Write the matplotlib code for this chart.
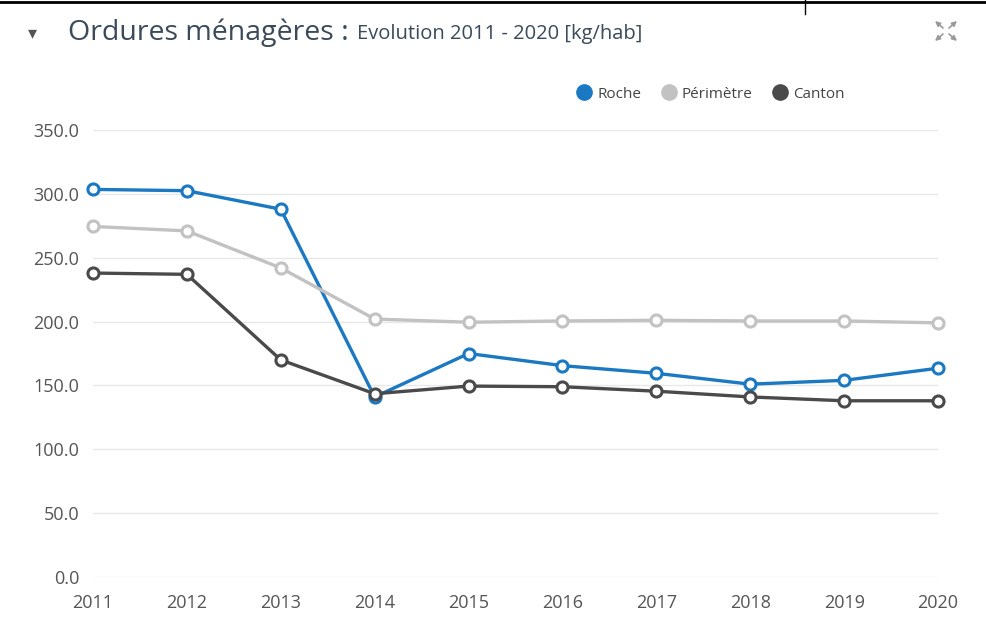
import matplotlib

matplotlib.use("Agg")

import matplotlib.pyplot as plt
from matplotlib.lines import Line2D


YEARS = [2011, 2012, 2013, 2014, 2015, 2016, 2017, 2018, 2019, 2020]

ROCHE = [303.5, 302.5, 288.0, 141.0, 175.0, 165.5, 159.5, 151.0, 154.0, 163.5]
PERIMETRE = [274.5, 271.0, 242.0, 202.0, 199.5, 200.5, 201.0, 200.5, 200.5, 199.0]
CANTON = [238.0, 237.0, 170.0, 143.5, 149.5, 149.0, 145.5, 141.0, 138.0, 138.0]

SERIES_NAMES = ["Roche", "Périmètre", "Canton"]
SERIES_COLORS = ["#1b78c2", "#c2c2c2", "#4a4a4a"]

Y_TICKS = [0, 50, 100, 150, 200, 250, 300, 350]

plt.rcParams["font.family"] = ["Open Sans", "DejaVu Sans"]

fig = plt.figure(figsize=(9.87, 6.23), dpi=100)
axis = fig.add_axes([0.0942, 0.0738, 0.8562, 0.7175])

for values, color in zip([ROCHE, PERIMETRE, CANTON], SERIES_COLORS):
    axis.plot(
        YEARS,
        values,
        color=color,
        linewidth=2.4,
        marker="o",
        markersize=8,
        markerfacecolor="white",
        markeredgecolor=color,
        markeredgewidth=2.2,
        zorder=3,
        clip_on=False,
    )

axis.set_xlim(YEARS[0], YEARS[-1])
axis.set_ylim(0, 350)
axis.set_yticks(Y_TICKS)
axis.set_yticklabels([f"{v:.1f}" for v in Y_TICKS])
axis.set_xticks(YEARS)
axis.set_xticklabels([str(y) for y in YEARS])

axis.grid(axis="y", color="#e8e8e8", linewidth=1)
axis.set_axisbelow(True)
for spine in axis.spines.values():
    spine.set_visible(False)
axis.tick_params(axis="both", length=0, labelsize=13, labelcolor="#555555")
axis.tick_params(axis="y", pad=10)
axis.tick_params(axis="x", pad=12)

handles = [
    Line2D([], [], linestyle="none", marker="o", markersize=11,
           markerfacecolor=c, markeredgecolor=c)
    for c in SERIES_COLORS
]
fig.legend(
    handles,
    SERIES_NAMES,
    loc="center",
    bbox_to_anchor=(0.72, 0.849),
    ncol=3,
    frameon=False,
    fontsize=11,
    labelcolor="#444444",
    handletextpad=0.35,
    columnspacing=1.3,
    handlelength=1.0,
)

fig.text(0.069, 0.948, "Ordures ménagères :", fontsize=20.5,
         color="#3a4a5a", va="center", ha="left")
fig.text(0.362, 0.946, "Evolution 2011 - 2020 [kg/hab]", fontsize=14.5,
         color="#3a4a5a", va="center", ha="left")
fig.text(0.028, 0.946, "▾", fontsize=13, color="#555555",
         va="center", ha="left")

# expand icon: four small arrows pointing to the corners
cx, cy = 946, 31
for dx, dy in [(-1, -1), (1, -1), (-1, 1), (1, 1)]:
    axis.annotate(
        "",
        xy=(cx + dx * 11, 623 - (cy + dy * 10)),
        xytext=(cx + dx * 3, 623 - (cy + dy * 3)),
        xycoords="figure pixels",
        textcoords="figure pixels",
        arrowprops=dict(arrowstyle="-|>", color="#9a9a9a", lw=1.2,
                        mutation_scale=7, shrinkA=0, shrinkB=0),
        annotation_clip=False,
    )

fig.add_artist(Line2D([0, 1], [0.996, 0.996], color="black", linewidth=2,
                      transform=fig.transFigure))
fig.add_artist(Line2D([0.816, 0.816], [0.978, 1.0], color="black",
                      linewidth=1, transform=fig.transFigure))

fig.savefig("out.png", dpi=100)
